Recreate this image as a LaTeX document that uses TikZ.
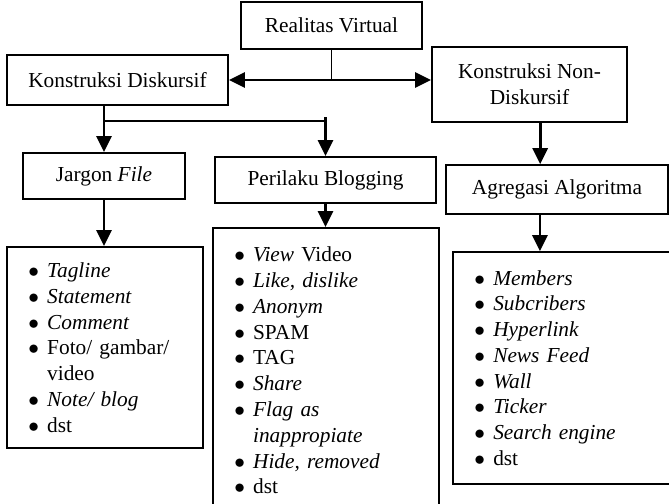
\documentclass[tikz,border=0pt]{standalone}
\usepackage{fontspec}
\setmainfont{Liberation Serif}
\usetikzlibrary{arrows.meta, positioning}
\newcommand{\blt}{\makebox[10pt][l]{\hspace{-0.6pt}$\bullet$}}
\tikzset{
  arrowK/.style={-{Triangle[length=9pt, width=8.5pt]}, line width=1.5pt},
  arrowKK/.style={{Triangle[length=9pt, width=8.5pt]}-{Triangle[length=9pt, width=8.5pt]},
                  line width=1.5pt},
  boxH/.style={rectangle, draw, line width=1pt, align=center, inner sep=2pt},
  boxL/.style={rectangle, draw, line width=1pt, align=left, inner xsep=12.5pt,
               inner ysep=0pt, text width=#1},
}
\begin{document}
\begin{tikzpicture}[x=0.5625pt, y=-0.5625pt, font=\fontsize{12pt}{14.5pt}\selectfont]
    \useasboundingbox (0,0) rectangle (669,504);
    \node[boxH, minimum width=101.8pt, minimum height=26.4pt] (rv) at (331.5,25.5) {Realitas Virtual};
    \node[boxH, minimum width=124.3pt, minimum height=28.1pt] (kd) at (117.5,80) {Konstruksi Diskursif};
    \node[boxH, minimum width=109.7pt, minimum height=42.2pt] (knd) at (529.5,84.5) {Konstruksi Non-\\Diskursif};
    \node[boxH, minimum width=91.1pt, minimum height=25.9pt] (jf) at (104,176) {Jargon \textit{File}};
    \node[boxH, minimum width=124.3pt, minimum height=25.9pt] (pb) at (325.5,180) {Perilaku Blogging};
    \node[boxH, minimum width=124.9pt, minimum height=27.6pt] (aa) at (557,189.5) {Agregasi Algoritma};
    \node[boxL=85pt, minimum height=113.1pt] (jfl) at (105,347.5)
      {\blt\textit{Tagline}\\ \blt\textit{Statement}\\ \blt\textit{Comment}\\
       \blt Foto/ gambar/\\ \hspace*{10pt}video\\ \blt\textit{Note/ blog}\\ \blt dst};
    \node[boxL=102pt, minimum height=160.3pt] (pbl) at (326,370.5)
      {\blt\textit{View} Video\\ \blt\textit{Like, dislike}\\ \blt\textit{Anonym}\\ \blt SPAM\\
       \blt TAG\\ \blt\textit{Share}\\ \blt\textit{Flag as}\\ \hspace*{10pt}\textit{inappropiate}\\
       \blt\textit{Hide, removed}\\ \blt dst};
    \node[boxL=108pt, minimum height=130.5pt] (aal) at (571.5,368)
      {\blt\textit{Members}\\ \blt\textit{Subcribers}\\ \blt\textit{Hyperlink}\\ \blt\textit{News Feed}\\
       \blt\textit{Wall}\\ \blt\textit{Ticker}\\ \blt\textit{Search engine}\\ \blt dst};
    \draw[line width=1pt] (rv.south) -- (rv.south |- kd.east);
    \draw[arrowKK] (kd.east) -- (kd.east -| knd.west);
    \coordinate (fork) at (jf.north |- 0,121);
    \draw[arrowK] (jf.north |- kd.south) -- (jf.north);
    \draw[line width=1.1pt] (fork) -- (fork -| pb.north);
    \draw[arrowK] ([yshift=2pt]fork -| pb.north) -- (pb.north);
    \draw[arrowK] ([xshift=6pt]knd.south) -- ([xshift=6pt]knd.south |- aa.north);
    \draw[arrowK] (jf.south) -- (jf.south |- jfl.north);
    \draw[arrowK] (pb.south) -- (pb.south |- pbl.north);
    \draw[arrowK] ([xshift=-9.6pt]aa.south) -- ([xshift=-9.6pt]aa.south |- aal.north);
\end{tikzpicture}
\end{document}
